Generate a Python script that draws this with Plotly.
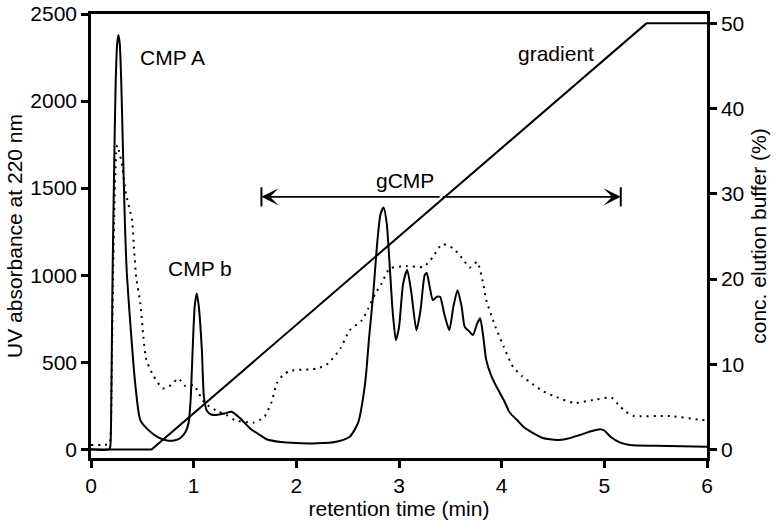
import plotly.graph_objects as go

# UV absorbance at 220 nm (solid trace)
uv_time = [0, 0.18, 0.19, 0.20, 0.21, 0.225, 0.24, 0.255, 0.267, 0.28, 0.295, 0.31, 0.33, 0.35,
           0.39, 0.43, 0.48, 0.56, 0.65, 0.74, 0.82, 0.87, 0.92, 0.95, 0.97, 0.99, 1.01, 1.03,
           1.05, 1.08, 1.10, 1.13, 1.17, 1.22, 1.30, 1.37, 1.45, 1.55, 1.65, 1.71, 1.85, 2.0,
           2.2, 2.4, 2.52, 2.6, 2.67, 2.71, 2.75, 2.79, 2.82, 2.85, 2.88, 2.91, 2.94, 2.97,
           3.0, 3.04, 3.08, 3.12, 3.17, 3.21, 3.25, 3.27, 3.30, 3.33, 3.37, 3.40, 3.44, 3.49,
           3.53, 3.57, 3.61, 3.64, 3.68, 3.72, 3.76, 3.79, 3.82, 3.85, 3.90, 3.95, 4.02, 4.08,
           4.15, 4.22, 4.31, 4.40, 4.54, 4.65, 4.76, 4.88, 4.96, 5.0, 5.06, 5.15, 5.25, 5.5, 6.0]
uv_abs = [0, 0, 30, 400, 1000, 1600, 2100, 2330, 2380, 2330, 2100, 1750, 1300, 1000,
          667, 380, 168, 110, 70, 50, 52, 65, 100, 150, 280, 570, 820, 895,
          820, 570, 300, 220, 200, 197, 205, 216, 180, 120, 80, 58, 42, 36,
          34, 45, 72, 150, 379, 650, 900, 1200, 1350, 1388, 1300, 1048, 780, 627,
          700, 950, 1030, 900, 684, 800, 1000, 1013, 930, 857, 876, 876, 780, 684,
          820, 914, 820, 703, 680, 656, 720, 752, 650, 512, 420, 359, 283, 210,
          168, 125, 92, 65, 53, 62, 82, 105, 115, 108, 72, 40, 25, 20, 15]

# second absorbance trace (dotted)
dot_time = [0, 0.1, 0.17, 0.185, 0.2, 0.215, 0.23, 0.245, 0.256, 0.27, 0.30, 0.34, 0.40, 0.42,
            0.44, 0.48, 0.51, 0.54, 0.61, 0.70, 0.78, 0.85, 0.92, 1.0, 1.05, 1.11, 1.24, 1.32,
            1.40, 1.58, 1.65, 1.69, 1.76, 1.81, 1.87, 1.94, 2.13, 2.21, 2.31, 2.43, 2.52, 2.64,
            2.70, 2.77, 2.83, 2.91, 3.07, 3.24, 3.33, 3.42, 3.53, 3.63, 3.69, 3.76, 3.82, 3.85,
            3.94, 4.02, 4.11, 4.20, 4.30, 4.40, 4.50, 4.70, 4.89, 5.07, 5.14, 5.21, 5.28, 5.64,
            5.95, 6.0]
dot_abs = [25, 25, 30, 40, 400, 1000, 1450, 1700, 1746, 1720, 1640, 1469, 1315, 1144,
           990, 839, 646, 512, 420, 350, 369, 407, 363, 369, 321, 264, 216, 197,
           168, 153, 170, 187, 273, 379, 426, 451, 459, 465, 493, 580, 684, 742,
           809, 895, 952, 1038, 1052, 1048, 1105, 1178, 1153, 1086, 1044, 1076, 952, 857,
           703, 589, 474, 420, 375, 335, 308, 267, 283, 296, 254, 216, 193, 191,
           168, 165]

# elution gradient (right axis, %)
grad_time = [0, 0.59, 5.41, 6.0]
grad_conc = [0, 0, 50, 50]

x_ticks = [0, 1, 2, 3, 4, 5, 6]
y_ticks = [0, 500, 1000, 1500, 2000, 2500]
y2_ticks = [0, 10, 20, 30, 40, 50]

# labels: (text, x, y)
labels = [("CMP A", 0.79, 2250), ("CMP b", 1.06, 1040), ("gCMP", 3.06, 1545), ("gradient", 4.53, 2273)]
gcmp_start, gcmp_end, gcmp_level = 1.66, 5.16, 1450

FONT = "Liberation Sans, Arial, Helvetica, sans-serif"
FS = 21

fig = go.Figure()
fig.add_trace(go.Scatter(x=dot_time, y=dot_abs, mode="lines",
                         line=dict(color="black", width=2, dash="2px,5px", shape="spline", smoothing=0.6),
                         hoverinfo="skip", showlegend=False))
fig.add_trace(go.Scatter(x=uv_time, y=uv_abs, mode="lines",
                         line=dict(color="black", width=2, shape="spline", smoothing=0.6),
                         showlegend=False))
fig.add_trace(go.Scatter(x=grad_time, y=grad_conc, mode="lines", yaxis="y2",
                         line=dict(color="black", width=2), showlegend=False))

annotations = []
for t, lx, ly in labels:
    annotations.append(dict(x=lx, y=ly, text=t, showarrow=False, xref="x", yref="y",
                            font=dict(family=FONT, size=FS, color="black")))
mid = (gcmp_start + gcmp_end) / 2
for end in (gcmp_start, gcmp_end):
    annotations.append(dict(x=end, y=gcmp_level, ax=mid, ay=gcmp_level, axref="x", ayref="y",
                            xref="x", yref="y", text="", showarrow=True, arrowhead=3,
                            arrowsize=1.6, arrowwidth=1.8, arrowcolor="black"))

shapes = []
for end in (gcmp_start, gcmp_end):
    shapes.append(dict(type="line", xref="x", yref="y", x0=end, x1=end,
                       y0=gcmp_level - 55, y1=gcmp_level + 55,
                       line=dict(color="black", width=2)))

axis_common = dict(showgrid=False, zeroline=False, showline=True, linecolor="black",
                   linewidth=2.5, ticks="outside", ticklen=7, tickwidth=2.5, tickcolor="black",
                   automargin=False,
                   tickfont=dict(family=FONT, size=FS, color="black"))

fig.update_layout(
    width=776, height=521,
    margin=dict(l=91, r=69, t=14, b=63),
    paper_bgcolor="white", plot_bgcolor="white",
    font=dict(family=FONT, size=FS, color="black"),
    xaxis=dict(range=[0, 6], tickvals=x_ticks, mirror=True,
               title=dict(text="retention time (min)", font=dict(family=FONT, size=FS), standoff=4),
               **axis_common),
    yaxis=dict(range=[-50, 2500], tickvals=y_ticks,
               title=dict(text="UV absorbance at 220 nm", font=dict(family=FONT, size=FS), standoff=2),
               **axis_common),
    yaxis2=dict(range=[-1.0, 51.1], tickvals=y2_ticks, overlaying="y", side="right",
                title=dict(text="conc. elution buffer (%)", font=dict(family=FONT, size=FS), standoff=8),
                **axis_common),
    annotations=annotations,
    shapes=shapes,
)

fig.write_html("out.html")
